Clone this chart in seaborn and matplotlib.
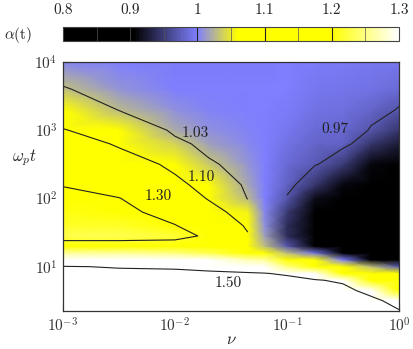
import numpy as np
import matplotlib
matplotlib.use('Agg')
import matplotlib.pyplot as plt
import seaborn as sns
from matplotlib.colors import LinearSegmentedColormap
from matplotlib.ticker import FuncFormatter

# grid (log10 of nu, log10 of omega_p t)
log_nu = [-3.0, -2.5, -2.0, -1.7, -1.35, -1.2, -1.0, -0.75, -0.5, -0.25, 0.0]
log_wt = [0.35, 0.5, 0.65, 0.8, 0.9, 1.0, 1.1, 1.2, 1.3, 1.45,
          1.6, 1.8, 2.0, 2.2, 2.5, 2.8, 3.0, 3.3, 3.6, 4.0]

# alpha(t) along omega_p t (bottom -> top), one list per nu column
alpha_cols = [
    [1.62, 1.60, 1.58, 1.56, 1.53, 1.505, 1.38, 1.26, 1.15, 1.23, 1.215, 1.207, 1.20, 1.188, 1.16, 1.13, 1.102, 1.065, 1.032, 1.005],
    [1.62, 1.60, 1.58, 1.56, 1.53, 1.49, 1.37, 1.26, 1.15, 1.23, 1.215, 1.20, 1.191, 1.17, 1.13, 1.09, 1.065, 1.028, 1.01, 1.0],
    [1.62, 1.60, 1.58, 1.56, 1.53, 1.48, 1.36, 1.25, 1.15, 1.22, 1.192, 1.165, 1.14, 1.115, 1.08, 1.04, 1.02, 1.008, 1.0, 0.998],
    [1.62, 1.60, 1.58, 1.56, 1.52, 1.46, 1.34, 1.23, 1.15, 1.17, 1.15, 1.125, 1.095, 1.07, 1.035, 1.015, 1.008, 1.002, 1.0, 0.998],
    [1.62, 1.60, 1.58, 1.55, 1.51, 1.43, 1.27, 1.17, 1.13, 1.105, 1.09, 1.055, 1.028, 1.018, 1.01, 1.005, 1.003, 1.0, 1.0, 0.998],
    [1.62, 1.60, 1.58, 1.54, 1.505, 1.40, 1.26, 1.13, 1.03, 1.015, 1.008, 1.004, 1.0, 1.0, 1.0, 1.0, 1.0, 1.0, 1.0, 0.998],
    [1.62, 1.60, 1.58, 1.54, 1.48, 1.25, 1.14, 1.03, 0.97, 0.94, 0.94, 0.95, 0.968, 0.978, 0.985, 0.99, 0.995, 0.998, 1.0, 1.0],
    [1.62, 1.60, 1.58, 1.52, 1.30, 1.19, 1.10, 0.99, 0.89, 0.87, 0.875, 0.89, 0.915, 0.945, 0.972, 0.98, 0.985, 0.99, 0.995, 0.998],
    [1.62, 1.60, 1.58, 1.45, 1.20, 1.12, 1.0, 0.90, 0.86, 0.85, 0.85, 0.86, 0.88, 0.91, 0.95, 0.978, 0.983, 0.988, 0.993, 0.997],
    [1.62, 1.58, 1.38, 1.18, 1.12, 1.03, 0.90, 0.86, 0.85, 0.84, 0.84, 0.845, 0.86, 0.88, 0.91, 0.945, 0.968, 0.98, 0.99, 0.995],
    [1.52, 1.35, 1.20, 1.15, 1.08, 0.97, 0.88, 0.85, 0.84, 0.83, 0.83, 0.84, 0.85, 0.87, 0.90, 0.925, 0.945, 0.968, 0.985, 0.995],
]

# contour lines: (level in the grid, printed label, label position nu, omega_p t)
# the "1.30" line is traced where the shaded grid sits at 1.19
contours = [
    (1.03, '1.03', 0.0151, 919),
    (1.10, '1.10', 0.0171, 207),
    (1.19, '1.30', 0.00713, 107),
    (0.97, '0.97', 0.268, 1035),
    (1.50, '1.50', 0.0297, 5.8),
]

cbar_ticks = [0.8, 0.9, 1.0, 1.1, 1.2, 1.3]

nu = 10 ** np.array(log_nu)
wt = 10 ** np.array(log_wt)
alpha = np.array(alpha_cols).T

sns.set_theme(style='ticks')
plt.rcParams['font.family'] = ['cmr10', 'DejaVu Serif']
plt.rcParams['mathtext.fontset'] = 'cm'
plt.rcParams['axes.formatter.use_mathtext'] = True

cmap = LinearSegmentedColormap.from_list('alpha', [
    (0.0, '#000000'), (0.21, '#000000'), (0.40, '#7f7fff'),
    (0.52, '#ffff00'), (0.80, '#ffff00'), (1.0, '#ffffff')])

fig = plt.figure(figsize=(4.13, 3.49), dpi=100)
ax = fig.add_axes([0.1525, 0.1089, 0.8136, 0.7135])
cax = fig.add_axes([0.1525, 0.8825, 0.8136, 0.0401])

mesh = ax.pcolormesh(nu, wt, alpha, cmap=cmap, vmin=0.8, vmax=1.3, shading='gouraud')
ax.set_xscale('log')
ax.set_yscale('log')

# left group of lines (small nu), right group (large nu), and the bottom line
left = slice(8, None), slice(0, 5)
right = slice(9, None), slice(6, None)
for level, text, lx, ly in contours:
    if level == 1.50:
        rs, cs = slice(None), slice(None)
    elif level == 0.97:
        rs, cs = right
    else:
        rs, cs = left
    ax.contour(nu[cs], wt[rs], alpha[rs, cs], levels=[level], colors='#222222', linewidths=0.8)
    ax.text(lx, ly, text, ha='center', va='center', fontsize=11, color='#222222')

ax.set_xlim(1e-3, 1)
ax.set_ylim(10 ** 0.35, 1e4)
ax.tick_params(which='both', direction='in', top=False, right=False, colors='#333333', labelsize=11)
ax.tick_params(which='major', length=6, width=0.8, pad=4)
ax.tick_params(which='minor', length=3.5, width=0.7)
for s in ax.spines.values():
    s.set_color('#333333')
    s.set_linewidth(0.9)
ax.set_xlabel(r'$\nu$', fontsize=12)
ax.xaxis.set_label_coords(0.5, -0.085)
ax.set_ylabel(r'$\omega_p t$', fontsize=12, rotation=0, ha='center', va='center')
ax.yaxis.set_label_coords(-0.115, 0.615)

cb = fig.colorbar(mesh, cax=cax, orientation='horizontal', ticks=cbar_ticks)
cax.xaxis.set_ticks_position('top')
cax.xaxis.set_major_formatter(FuncFormatter(lambda v, p: '%g' % v))
cax.tick_params(length=0, labelsize=11, pad=7)
cb.outline.set_edgecolor('#444444')
cb.outline.set_linewidth(0.8)
for v in [0.85, 0.9, 0.95, 1.05, 1.15, 1.25]:
    cax.axvline(v, color='#555555', lw=0.5)
for v in [1.0, 1.1, 1.2]:
    cax.axvline(v, color='#222222', lw=0.8)
fig.text(18 / 413, 1 - 35 / 349, r'$\alpha(\mathrm{t})$', ha='center', va='center', fontsize=11)

fig.savefig('out.png', dpi=100)
